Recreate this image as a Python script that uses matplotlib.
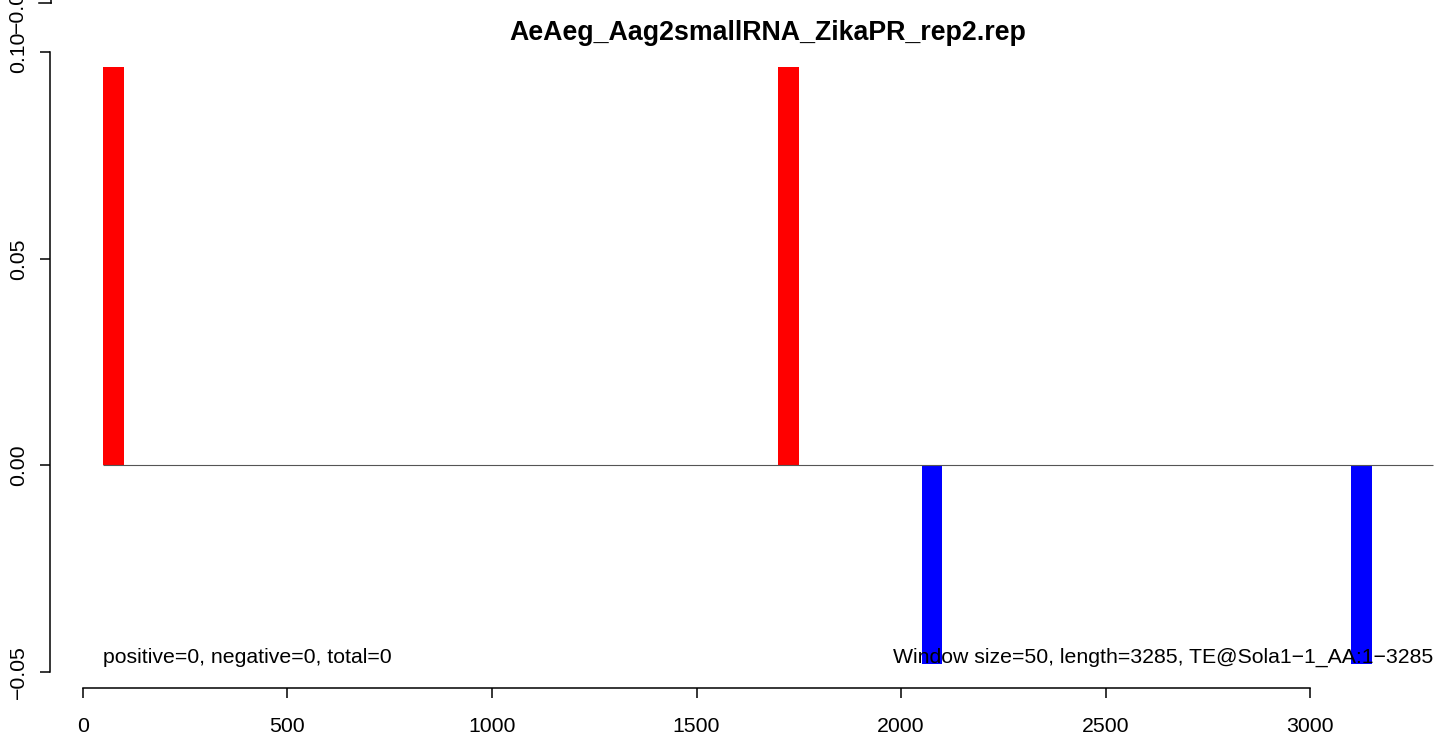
import numpy as np
import matplotlib.pyplot as plt

plt.rcParams['font.family'] = ['Liberation Sans', 'DejaVu Sans']

# window starts, window size and signed density for the bars
bin_start = [50, 1700, 2050, 3100]
bin_width = 50
values = [0.0964, 0.0964, -0.0482, -0.0482]
seq_length = 3285

title = 'AeAeg_Aag2smallRNA_ZikaPR_rep2.rep'
left_note = 'positive=0, negative=0, total=0'
right_note = 'Window size=50, length=3285, TE@Sola1\u22121_AA:1\u22123285'

xticks = [0, 500, 1000, 1500, 2000, 2500, 3000]
yticks = [-0.05, 0.00, 0.05, 0.10]
ytick_labels = ['\u22120.05', '0.00', '0.05', '0.10']

fig = plt.figure(figsize=(14.39, 7.40), dpi=100)
ax = fig.add_axes([0, 0, 1, 1])
ax.set_xlim(-202.1, 3314.5)
ax.set_ylim(-0.06654, 0.11267)

colors = ['red' if v > 0 else 'blue' for v in values]
ax.bar(bin_start, values, width=bin_width, align='edge', color=colors, linewidth=0, zorder=2)
ax.hlines(0, 50, 3300, color='#555555', linewidth=0.8, zorder=3)

# R style detached axes
for s in ['top', 'right']:
    ax.spines[s].set_visible(False)
ax.spines['left'].set_position(('data', -79.9))
ax.spines['left'].set_bounds(-0.05, 0.10)
ax.spines['bottom'].set_position(('data', -0.05395))
ax.spines['bottom'].set_bounds(0, 3000)
for s in ['left', 'bottom']:
    ax.spines[s].set_linewidth(1.1)

ax.set_xticks(xticks)
ax.set_xticklabels([str(t) for t in xticks])
ax.set_yticks(yticks)
ax.set_yticklabels(ytick_labels)
ax.tick_params(axis='both', direction='out', length=7.2, width=1.1, labelsize=15.3)
ax.tick_params(axis='x', pad=14)
ax.tick_params(axis='y', pad=8.5)
for lab in ax.get_yticklabels():
    lab.set_rotation(90)
    lab.set_va('center')

# stray axis piece cut off at the top edge
ax.plot([-106, -78], [0.1120, 0.1120], color='black', linewidth=1.1, clip_on=False)
ax.plot([-78, -78], [0.1120, 0.1127], color='black', linewidth=1.1, clip_on=False)
ax.text(-159, 0.1047, '\u22120.05', rotation=90, ha='center', va='bottom', fontsize=15.3)

ax.text(1674.7, 0.1047, title, ha='center', va='center', fontsize=19.3, fontweight='bold')
ax.text(50, -0.0465, left_note, ha='left', va='center', fontsize=15.3)
ax.text(3300, -0.0465, right_note, ha='right', va='center', fontsize=15.3)

fig.savefig('out.png', dpi=100)
